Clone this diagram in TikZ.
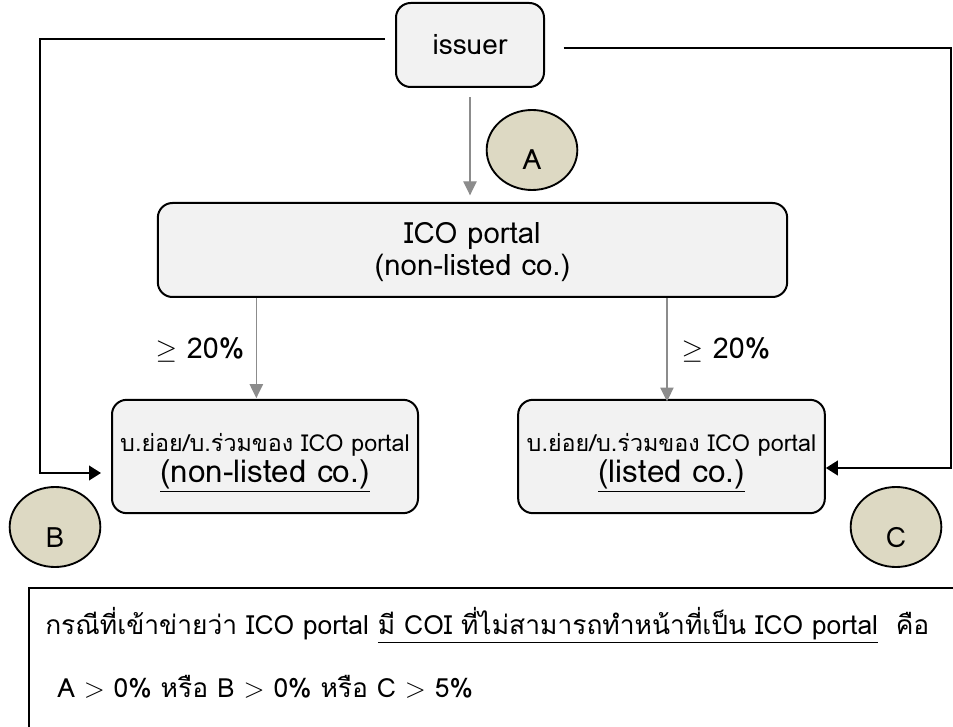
\documentclass[tikz,border=0pt]{standalone}
\usepackage{fontspec}
\setmainfont[Script=Thai]{Loma}
\usetikzlibrary{arrows.meta}
\usetikzlibrary{positioning}
\usetikzlibrary{shapes.geometric}
\definecolor{boxgray}{HTML}{F2F2F2}
\definecolor{tagtan}{HTML}{DDD9C3}
\definecolor{feedgray}{HTML}{8C8C8C}

\tikzset{
  box/.style={draw=black,line width=1.5pt,fill=boxgray,rounded corners=11pt,align=center,inner sep=0pt},
  tag/.style={draw=black,line width=1.4pt,fill=tagtan,ellipse,minimum width=68pt,minimum height=60pt,
    inner sep=0pt,text height=30pt,text depth=0pt,font=\fontsize{21}{23}\selectfont},
  link/.style={draw=black,line width=1.4pt,-{Triangle[length=9pt,width=11pt]}},
  feed/.style={draw=feedgray,line width=1pt,-{Triangle[length=10.5pt,width=10pt]}},
  notetext/.style={inner sep=0pt,font=\fontsize{19.8}{24}\selectfont}
}

\begin{document}
\begin{tikzpicture}[x=0.75pt,y=-0.75pt]
\useasboundingbox (0,0) rectangle (953,727);
\clip (0,0) rectangle (953,727);
% boxes
\node[box,minimum width=111pt,minimum height=63pt,font=\fontsize{21}{24}\selectfont] (issuer) at (470,45) {issuer};
\node[box,minimum width=472pt,minimum height=70.5pt,font=\fontsize{22}{24}\selectfont] (portal) at (472.5,250) {\rule{0pt}{19pt}ICO portal\\(non-listed co.)};
\node[box,minimum width=229.5pt,minimum height=85pt,font=\fontsize{17.5}{23.25}\selectfont] (subnl) at (265,456.5)
  {\rule{0pt}{23pt}บ.ย่อย/บ.ร่วมของ ICO portal\\\fontsize{23.5}{23.25}\selectfont\underline{(non-listed co.)}};
\node[box,minimum width=230pt,minimum height=85pt,font=\fontsize{17.5}{23.25}\selectfont] (subl) at (671.5,456.5)
  {\rule{0pt}{23pt}บ.ย่อย/บ.ร่วมของ ICO portal\\\fontsize{23.5}{23.25}\selectfont\underline{(listed co.)}};
% tags
\node[tag] (tagA) at (532,150) {A};
\node[tag] (tagB) at (55,527) {B};
\node[tag] (tagC) at (896,527) {C};
% shares
\node[font=\fontsize{21.5}{24}\selectfont] (shareL) at (200,350) {$\geq$ 20\%};
\node[font=\fontsize{21.5}{24}\selectfont] (shareR) at (726,350) {$\geq$ 20\%};
% connectors
\coordinate (bcorner) at (40,473);
\coordinate (ccorner) at (951,468);
\draw[feed,shorten <=7pt,shorten >=5pt] (issuer.south) -- (issuer.south |- portal.north);
\draw[feed,shorten >=0.5pt] ([xshift=-6.5pt]subnl.north |- portal.south) -- ([xshift=-6.5pt]subnl.north);
\draw[feed,shorten >=-2pt] ([xshift=-3.4pt]subl.north |- portal.south) -- ([xshift=-3.4pt]subl.north);
\draw[link,shorten <=7.5pt,shorten >=7.5pt] ([yshift=4.5pt]issuer.west) -| (bcorner) -- (bcorner -| subnl.west);
\draw[link,shorten <=14pt] ([yshift=-2.25pt]issuer.east) -| (ccorner) -- (ccorner -| subl.east);
% note
\draw[line width=1.5pt] (29,588) rectangle (1000,760);
\node[notetext,anchor=west] (cond) at (45,625) {กรณีที่เข้าข่ายว่า ICO portal \underline{มี COI ที่ไม่สามารถทำหน้าที่เป็น ICO portal}\ \ คือ};
\node[notetext,anchor=west] (rule) at ([xshift=9pt,yshift=-46.5pt]cond.west) {A $>$ 0\% หรือ B $>$ 0\% หรือ C $>$ 5\%};
\end{tikzpicture}
\end{document}
